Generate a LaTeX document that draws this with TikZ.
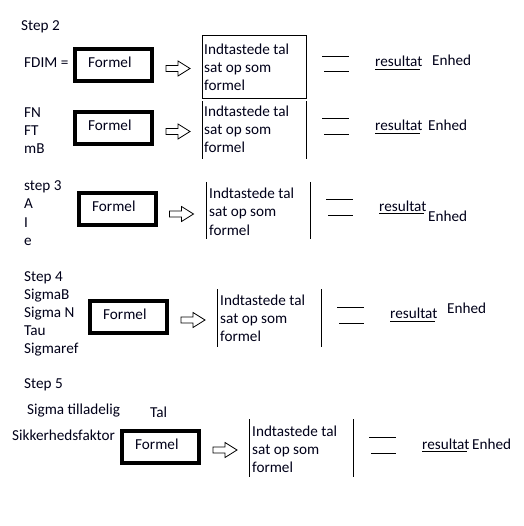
\documentclass[tikz,border=0pt]{standalone}
\usepackage{fontspec}
\setmainfont{Carlito}
\begin{document}
\begin{tikzpicture}[x=1pt,y=-1pt,
  txt/.style={anchor=base west,inner sep=0pt,font=\fontsize{15.2}{18}\selectfont,text=black!90!blue},
  fbox/.style={draw=black,line width=4pt,minimum width=77pt,minimum height=32pt,inner sep=0pt},
  barrow/.style={draw=black,line width=0.8pt,line join=miter},
  thin/.style={draw=black,line width=1pt}]
\useasboundingbox (0,0) rectangle (523,526);
\fill[white] (0,0) rectangle (523,526);
\def\blockarrow#1{\draw[barrow] (#1) ++(-12,-3) -- ++(12,0) -- ++(0,-4.5) -- ++(12,7.5) -- ++(-12,7.5) -- ++(0,-4.5) -- ++(-12,0) -- cycle;}

% ---------------- Row 1
\node[txt] (s2) at (21,31) {Step 2};
\node[txt] (fdim) at (24,68) {FDIM =};
\node[fbox] (b1) at (113.5,65) {};
\node[txt] (f1) at (88,68) {Formel};
\coordinate (a1) at (178,68.5);
\blockarrow{a1}
\node[thin,minimum width=104pt,minimum height=63pt,inner sep=0pt] (t1) at (254,67.5) {};
\node[txt] (i1a) at (204,55) {Indtastede tal};
\node[txt] (i1b) at (204,73) {sat op som};
\node[txt] (i1c) at (204,91) {formel};
\draw[thin] (322,57) -- (349,57);
\draw[thin] (324,72) -- (349,72);
\node[txt] (r1) at (375,67) {resultat};
\draw[thin] (375,70) -- (420,70);
\node[txt] (e1) at (432,66) {Enhed};

% ---------------- Row 2
\node[txt] (fn) at (24,118) {FN};
\node[txt] (ft) at (24,136) {FT};
\node[txt] (mb) at (24,154) {mB};
\node[fbox] (b2) at (113.5,128.5) {};
\node[txt] (f2) at (88,131) {Formel};
\coordinate (a2) at (178,131.5);
\blockarrow{a2}
\draw[thin] (202,101) -- (202,159);
\draw[thin] (306,101) -- (306,159);
\node[txt] (i2a) at (204,117) {Indtastede tal};
\node[txt] (i2b) at (204,135) {sat op som};
\node[txt] (i2c) at (204,153) {formel};
\draw[thin] (322,119) -- (349,119);
\draw[thin] (324,135) -- (349,135);
\node[txt] (r2) at (375,131) {resultat};
\draw[thin] (375,134) -- (420,134);
\node[txt] (e2) at (428,131) {Enhed};

% ---------------- Row 3
\node[txt] (s3) at (24,191) {step 3};
\node[txt] (va) at (24,209) {A};
\node[txt] (vi) at (24,227) {I};
\node[txt] (ve) at (24,245) {e};
\node[fbox] (b3) at (117,209) {};
\node[txt] (f3) at (92,212) {Formel};
\coordinate (a3) at (181.5,214);
\blockarrow{a3}
\draw[thin] (206,182) -- (206,239);
\draw[thin] (310,182) -- (310,239);
\node[txt] (i3a) at (209,199) {Indtastede tal};
\node[txt] (i3b) at (209,217) {sat op som};
\node[txt] (i3c) at (209,235) {formel};
\draw[thin] (326,200) -- (353,200);
\draw[thin] (328,216) -- (353,216);
\node[txt] (r3) at (379,212) {resultat};
\draw[thin] (379,214) -- (424,214);
\node[txt] (e3) at (428,222) {Enhed};

% ---------------- Row 4
\node[txt] (s4) at (24,281) {Step 4};
\node[txt] (sb) at (24,299) {SigmaB};
\node[txt] (sn) at (24,317) {Sigma N};
\node[txt] (tau) at (24,335) {Tau};
\node[txt] (sr) at (24,353) {Sigmaref};
\node[fbox] (b4) at (128.5,316.5) {};
\node[txt] (f4) at (103,319) {Formel};
\coordinate (a4) at (193,320);
\blockarrow{a4}
\draw[thin] (217,289) -- (217,347);
\draw[thin] (321,289) -- (321,347);
\node[txt] (i4a) at (220,305) {Indtastede tal};
\node[txt] (i4b) at (220,323) {sat op som};
\node[txt] (i4c) at (220,341) {formel};
\draw[thin] (337,307) -- (364,307);
\draw[thin] (339,323) -- (364,323);
\node[txt] (r4) at (390,318) {resultat};
\draw[thin] (390,321) -- (435,321);
\node[txt] (e4) at (447,313) {Enhed};

% ---------------- Row 5
\node[txt] (s5) at (24,388) {Step 5};
\begin{scope}
\clip (0,395) rectangle (121,420);
\node[txt] (stil) at (27,414) {Sigma tilladelig};
\end{scope}
\node[txt] (tal) at (150,417) {Tal};
\node[txt] (sik) at (12,440) {Sikkerhedsfaktor};
\node[fbox] (b5) at (160.5,446.5) {};
\node[txt] (f5) at (135,449) {Formel};
\coordinate (a5) at (225,450);
\blockarrow{a5}
\draw[thin] (249,419) -- (249,477);
\draw[thin] (353,419) -- (353,477);
\node[txt] (i5a) at (252,436) {Indtastede tal};
\node[txt] (i5b) at (252,454) {sat op som};
\node[txt] (i5c) at (252,472) {formel};
\draw[thin] (369,437) -- (396,437);
\draw[thin] (371,453) -- (396,453);
\node[txt] (r5) at (422,449) {resultat};
\draw[thin] (422,451) -- (467,451);
\node[txt] (e5) at (472,449) {Enhed};
\end{tikzpicture}
\end{document}
